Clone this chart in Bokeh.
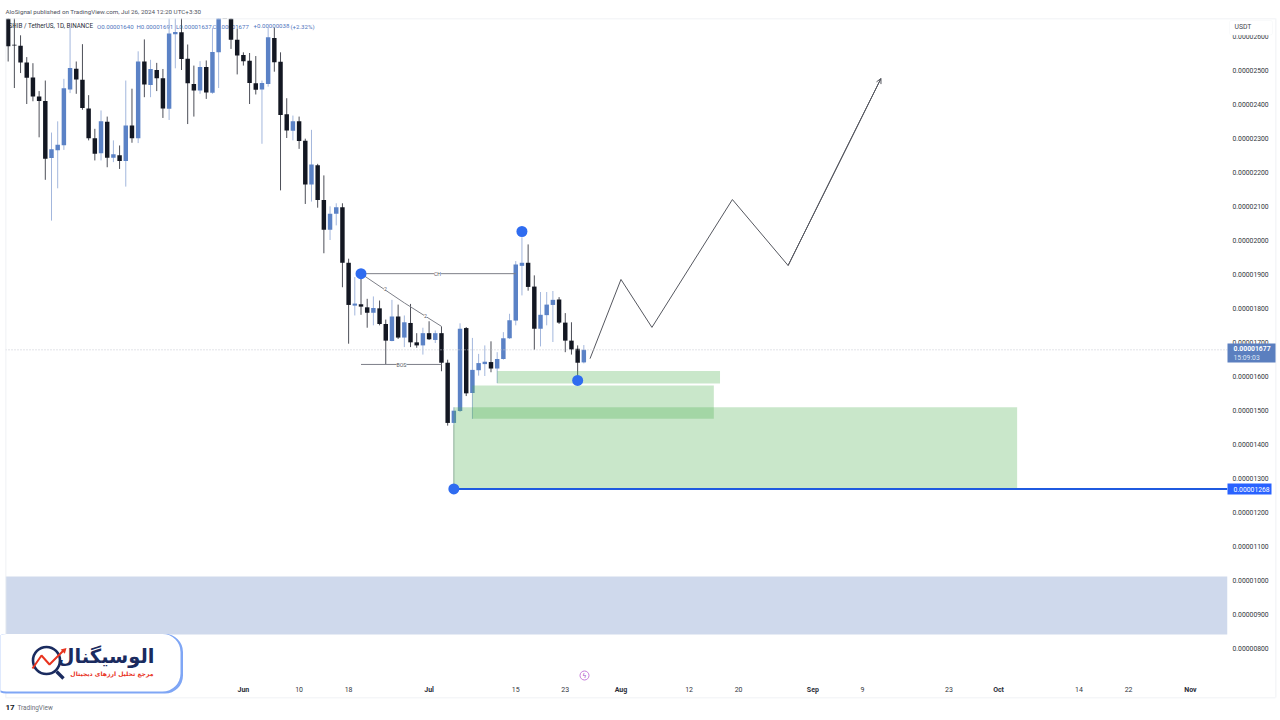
from bokeh.plotting import figure
from bokeh.models import Range1d, FixedTicker, PrintfTickFormatter, Label, BoxAnnotation, Span, Arrow, OpenHead
from bokeh.embed import file_html
from bokeh.resources import INLINE
import numpy as np

# prices in units of 0.00000001 USDT
opens = [2665,2574,2571,2522,2478,2422,2409,2241,2264,2279,2443,2504,2471,2387,2299,2255,2348,2242,2249,2232,
         2337,2299,2525,2456,2500,2476,2386,2605,2611,2533,2459,2440,2509,2433,2552,2720,2685,2589,2544,2527,
         2461,2443,2459,2594,2524,2370,2321,2349,2292,2163,2220,2118,2030,2077,2096,1933,1807,1811,1802,1786,
         1799,1753,1703,1775,1713,1756,1699,1690,1726,1706,1726,1639,1462,1497,1741,1550,1617,1635,1641,1622,
         1650,1711,1763,1924,1933,1863,1739,1779,1809,1825,1757,1704,1680,1640]
highs = [2685,2675,2602,2538,2520,2438,2469,2316,2349,2474,2626,2525,2576,2426,2327,2381,2363,2293,2278,2469,
         2445,2555,2590,2530,2521,2503,2655,2660,2655,2575,2513,2526,2528,2624,2690,2760,2700,2621,2552,2550,
         2541,2469,2624,2624,2552,2417,2366,2363,2298,2324,2224,2190,2099,2108,2108,1945,1891,1910,1827,1834,
         1822,1766,1824,1810,1778,1812,1726,1742,1761,1734,1746,1648,1508,1755,1744,1712,1665,1690,1702,1670,
         1729,1783,1938,2008,1987,1896,1847,1847,1850,1832,1785,1758,1690,1691]
lows = [2525,2447,2491,2400,2408,2302,2177,2057,2152,2265,2432,2430,2383,2293,2234,2234,2214,2229,2209,2157,
        2286,2285,2420,2420,2438,2359,2353,2505,2500,2341,2363,2430,2415,2430,2447,2670,2562,2487,2513,2400,
        2428,2283,2451,2495,2146,2300,2293,2268,2106,2113,2095,1961,2000,2043,1861,1695,1778,1780,1742,1749,
        1749,1634,1702,1709,1685,1685,1683,1663,1706,1697,1614,1454,1457,1494,1541,1474,1601,1600,1611,1579,
        1648,1709,1749,1837,1851,1677,1687,1749,1700,1753,1670,1663,1587,1637]
closes = [2570,2572,2522,2477,2422,2409,2239,2267,2280,2446,2506,2472,2388,2299,2254,2349,2242,2252,2232,2337,
          2299,2525,2457,2503,2476,2387,2607,2612,2532,2461,2440,2509,2434,2553,2665,2690,2589,2543,2526,2462,
          2442,2462,2596,2523,2368,2322,2349,2291,2163,2222,2118,2030,2077,2096,1933,1809,1813,1804,1786,1800,
          1753,1704,1775,1713,1758,1699,1690,1726,1708,1726,1639,1462,1498,1739,1549,1618,1638,1642,1622,1650,
          1711,1764,1928,1933,1862,1739,1780,1810,1824,1757,1704,1678,1639,1677]

forecast_idx = [94, 99, 104, 117, 126, 141]
forecast_val = [1651, 1884, 1743, 2119, 1925, 2475]
zones_left = [79, 75, 72]
zones_right = [115, 114, 163]
zones_top = [1615, 1572, 1508]
zones_bottom = [1578, 1474, 1268]
demand_top, demand_bottom = 1010, 840
pivot_idx = [57, 83, 92, 72]
pivot_val = [1901, 2025, 1587, 1268]
trend_idx = [57, 64, 70]
trend_val = [1901, 1815, 1746]
last_price = 1677
target_price = 1268
tick_idx = [47, 55, 82, 90, 110, 118, 138, 152, 173, 181]
tick_txt = ["10", "18", "15", "23", "12", "20", "9", "23", "14", "22"]
month_idx = [38, 68, 99, 130, 160, 191]
month_txt = ["Jun", "Jul", "Aug", "Sep", "Oct", "Nov"]
price_ticks = list(range(800, 2700, 100))

U = 1e-8
FL, FR, FT, FB = 5, 1227, 18, 682
def X(px): return (px - 7.67) / 6.19
def Y(py): return (1600 + (375.5 - py) / 0.34) * U

p = figure(width=1280, height=720, output_backend="svg", toolbar_location=None,
           x_range=Range1d(X(FL), X(FR)), y_range=Range1d(Y(FB), Y(FT)),
           y_axis_location="right", min_border_left=FL, min_border_right=1280 - FR,
           min_border_top=FT, min_border_bottom=720 - FB, margin=(0, 0, 0, 0))
p.grid.visible = False
p.outline_line_color = None
p.background_fill_color = "white"

# full-page layer for everything that sits outside the plot frame
q = figure(width=1280, height=720, output_backend="svg", toolbar_location=None,
           x_range=Range1d(0, 1280), y_range=Range1d(720, 0),
           min_border=0, margin=(-720, 0, 0, 0), x_axis_location=None, y_axis_location=None)
q.grid.visible = False
q.outline_line_color = None
q.background_fill_color = None
q.border_fill_color = None

AXF = "Roboto"
ya = p.yaxis[0]
ya.ticker = FixedTicker(ticks=[v * U for v in price_ticks])
ya.formatter = PrintfTickFormatter(format="%.8f")
ya.major_tick_line_color = None
ya.minor_tick_line_color = None
ya.major_tick_out = 0
ya.major_tick_in = 0
ya.axis_line_color = None
ya.major_label_standoff = 5
ya.major_label_text_font = AXF
ya.major_label_text_font_size = "6.8px"
ya.major_label_text_color = "#333740"

xa = p.xaxis[0]
xa.ticker = FixedTicker(ticks=tick_idx)
xa.major_label_overrides = dict(zip(tick_idx, tick_txt))
xa.major_tick_line_color = None
xa.minor_tick_line_color = None
xa.major_tick_out = 0
xa.major_tick_in = 0
xa.axis_line_color = None
xa.major_label_standoff = 4
xa.major_label_text_font = AXF
xa.major_label_text_font_size = "7px"
xa.major_label_text_color = "#333740"

def txt(s, px, py, size=6.8, color="#333740", align="left", bold=False, font="Roboto", level="annotation", bg=None):
    q.add_layout(Label(x=px, y=py, text=s, text_font=font, text_font_size=f"{size}px", text_color=color,
                       text_align=align, text_baseline="middle", level=level,
                       text_font_style="bold" if bold else "normal", background_fill_color=bg))

def box(l_, r_, t_, b_, fill, line=None, radius=0):
    q.add_layout(BoxAnnotation(left=l_, right=r_, top=t_, bottom=b_, fill_color=fill, fill_alpha=1,
                               line_color=line, line_width=1, border_radius=radius))

o, h, l, c = [np.array(a) * U for a in (opens, highs, lows, closes)]
idx = np.arange(len(opens))
up = c > o
DARK, BLUE = "#131722", "#5b82c6"

p.add_layout(BoxAnnotation(left=X(FL), right=X(FR), top=demand_top * U, bottom=demand_bottom * U,
                           fill_color="#cfd9ec", fill_alpha=1, line_color=None, level="underlay"))
p.add_layout(Span(location=last_price * U, dimension="width", line_color="#c4c7cf", line_width=1, line_dash="1 2"))

# legend sits underneath the candles
def under(s, px, py, size, color):
    p.add_layout(Label(x=X(px), y=Y(py), text=s, text_font="Roboto", text_font_size=f"{size}px", text_color=color,
                       text_align="left", text_baseline="middle", level="underlay"))
under("SHIB / TetherUS, 1D, BINANCE", 8, 25.5, 6.3, "#2a2e39")
for s, px in [("O0.00001640", 96.5), ("H0.00001691", 136), ("L0.00001637", 175.5), ("C0.00001677", 212),
              ("+0.00000038", 253), ("(+2.32%)", 290)]:
    under(s, px, 25.5, 6.1, "#4f74bd")

p.segment(idx[~up], l[~up], idx[~up], h[~up], line_color="#4d4f58", line_width=1)
p.segment(idx[up], l[up], idx[up], h[up], line_color="#a3b7dd", line_width=1)
p.vbar(idx[~up], 0.72, o[~up], c[~up], fill_color=DARK, line_color=None)
p.vbar(idx[up], 0.72, o[up], c[up], fill_color=BLUE, line_color=None)

p.quad(left=zones_left, right=zones_right, top=np.array(zones_top) * U, bottom=np.array(zones_bottom) * U,
       fill_color="#4caf50", fill_alpha=0.3, line_color=None)
p.segment([zones_left[2]], [lows[zones_left[2]] * U], [zones_left[2]], [target_price * U],
          line_color="#8fae9a", line_width=1)

GRAY = "#7d7f88"
INK = "#55575f"
p.segment([pivot_idx[0]], [pivot_val[0] * U], [82], [pivot_val[0] * U], line_color=GRAY, line_width=1)
p.segment([57], [1634 * U], [70], [1634 * U], line_color=GRAY, line_width=1)
p.line(trend_idx, np.array(trend_val) * U, line_color=GRAY, line_width=1)
p.line(forecast_idx, np.array(forecast_val) * U, line_color=INK, line_width=1)
p.add_layout(Arrow(end=OpenHead(size=5, line_color=INK, line_width=1),
                   x_start=forecast_idx[-2], y_start=forecast_val[-2] * U,
                   x_end=forecast_idx[-1], y_end=forecast_val[-1] * U,
                   line_color=INK, line_width=1))

p.segment([zones_left[2]], [target_price * U], [X(FR)], [target_price * U], line_color="#1f5ae0", line_width=2)
p.scatter(pivot_idx, np.array(pivot_val) * U, size=11, marker="circle", fill_color="#2f6cf0", line_color=None)

# chart edges
box(5, 1275, 18, 18.8, "#eceef2")
box(5, 5.8, 18, 697, "#eceef2")
box(5, 1275, 697, 697.8, "#eceef2")
box(1275, 1275.8, 18, 697, "#eceef2")

for s, px, py in [("CH", 437, 273), ("BOS", 401, 364), ("2", 385, 288), ("2", 425, 315)]:
    txt(s, px, py, size=5.2, color="#55575f", align="center", bg="white")

for i, s in zip(month_idx, month_txt):
    txt(s, 7.67 + 6.19 * i, 689, size=7, bold=True, align="center", color="#2a2e39")

# header
txt("AloSignal published on TradingView.com, Jul 26, 2024 12:20 UTC+3:30", 5, 11, size=6.25, color="#50535e")

# price boxes
box(1227, 1275, 343, 362, "#5b7fbf")
txt("0.00001677", 1233, 348, color="white", bold=True, size=6.8)
txt("15:09:03", 1233, 357, color="#dfe6f5", size=6.8)
box(1227, 1271, 483, 494, "#2962ff")
txt("0.00001268", 1233, 488.5, color="white", size=6.8)
box(1229, 1272, 20, 34.5, "white", line="#eceef2", radius=2)
txt("USDT", 1234, 26.5, color="#444750", size=6.8)

# event mark
q.scatter([584], [675], size=9, marker="circle", fill_color="white", line_color="#c77ddb", line_width=1)
txt("\u03df", 584, 675, size=6.5, color="#a23fc4", align="center", font="DejaVu Sans")

# footer
txt("17", 5, 707, size=8, color="#131722", bold=True)
txt("TradingView", 17, 707, size=6.4, color="#6a6d78")

# watermark badge
box(-12, 182.5, 633.5, 693, "#7fa6f5", radius=18)
box(-12, 180, 633.5, 691, "white", radius=18)
NAVY, RED = "#1a2b5f", "#e8341f"
q.scatter([46], [660], size=27, marker="circle", fill_color=None, line_color=NAVY, line_width=2.6, level="overlay")
q.line([56, 63], [671, 678], line_color=NAVY, line_width=3.4, level="overlay")
q.line([32, 41, 49, 63], [668, 655, 664, 650], line_color=RED, line_width=2, level="overlay")
q.scatter([63.5], [650], size=6, marker="triangle", angle=-0.8, fill_color=RED, line_color=None, level="overlay")
txt("الوسیگنال", 154, 656, size=19.5, color=NAVY, align="right", bold=True, font="DejaVu Sans", level="overlay")
txt("مرجع تحلیل ارزهای دیجیتال", 153, 672.5, size=6.1, color=RED, align="right", bold=True, font="DejaVu Sans", level="overlay")

open("out.html", "w").write(file_html([p, q], INLINE))
